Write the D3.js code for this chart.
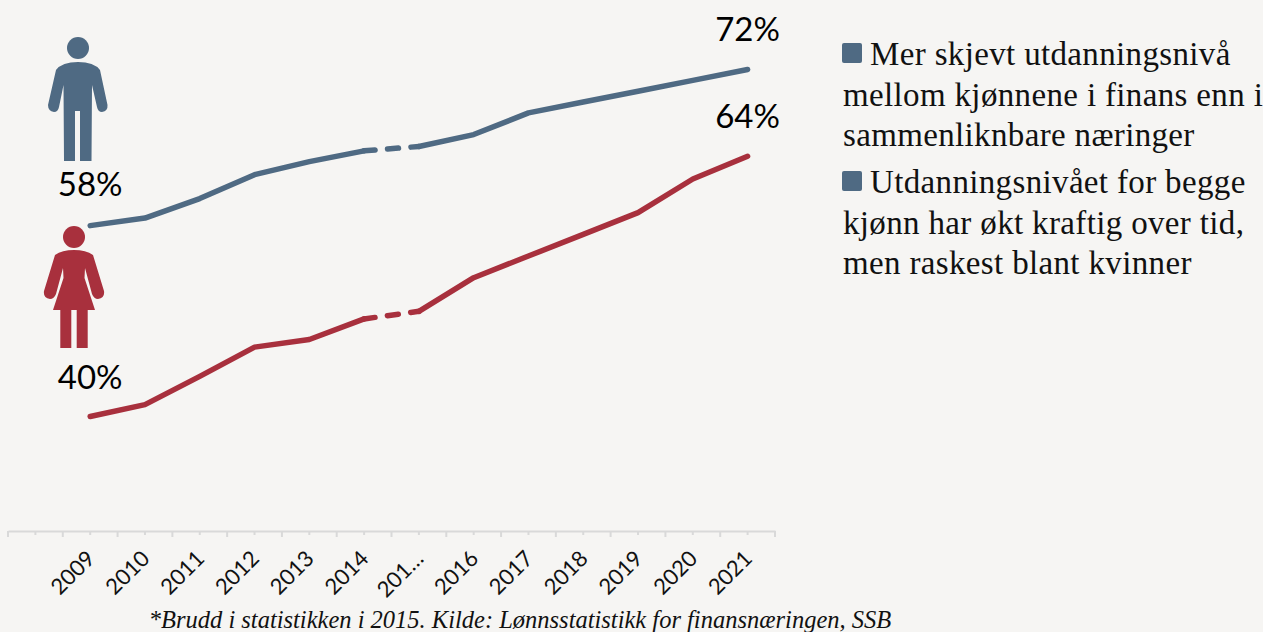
<!DOCTYPE html>
<html lang="no">
<head>
    <meta charset="UTF-8" />
    <title>Utdanningsniva finans</title>
    <script src="https://d3js.org/d3.v7.min.js"></script>
    <style>
        html, body { margin: 0; padding: 0; background: #f6f5f3; overflow: hidden; }
        .pct { font-family: Lato, sans-serif; font-size: 33px; fill: #000; text-anchor: middle; }
        .legend { font-family: "Liberation Serif", serif; font-size: 33px; letter-spacing: 0.35px; fill: #111; }
        .source { font-family: "Liberation Serif", serif; font-style: italic; font-size: 24.5px; fill: #111; text-anchor: middle; }
        .axis path, .axis line { stroke: #d9d9d9; stroke-width: 2; fill: none; }
        .axis text { font-family: Lato, sans-serif; font-size: 22px; fill: #111; }
        .series { fill: none; stroke-width: 5.5; stroke-linecap: round; stroke-linejoin: round; }
    </style>
</head>
<body>
    <div id="chart"></div>
    <script>
        var blue = "#4f6a83";
        var red = "#a8303d";

        // first slot on the axis is empty in the original
        var years = ["", "2009", "2010", "2011", "2012", "2013", "2014", "2015", "2016", "2017", "2018", "2019", "2020", "2021"];
        var tickLabels = ["", "2009", "2010", "2011", "2012", "2013", "2014", "201…", "2016", "2017", "2018", "2019", "2020", "2021"];
        var dataYears = years.slice(1);
        var men = [57.6, 58.3, 60.1, 62.3, 63.5, 64.5, 64.9, 66.0, 68.0, 69.0, 70.0, 71.0, 72.0];
        var women = [40.0, 41.1, 43.7, 46.4, 47.1, 49.0, 49.7, 52.8, 54.8, 56.8, 58.8, 61.9, 64.0];
        var labels = [
            { text: "58%", i: 0, s: men, dx: 0, dy: -29.5 },
            { text: "72%", i: 12, s: men, dx: 0, dy: -28.5 },
            { text: "40%", i: 0, s: women, dx: 0, dy: -27.5 },
            { text: "64%", i: 12, s: women, dx: 0, dy: -28 }
        ];
        var legendLines = [
            { text: "Mer skjevt utdanningsnivå", bullet: true, y: 65 },
            { text: "mellom kjønnene i finans enn i", y: 106 },
            { text: "sammenliknbare næringer", y: 146 },
            { text: "Utdanningsnivået for begge", bullet: true, y: 193 },
            { text: "kjønn har økt kraftig over tid,", y: 234 },
            { text: "men raskest blant kvinner", y: 274 }
        ];
        var source = "*Brudd i statistikken i 2015. Kilde: Lønnsstatistikk for finansnæringen, SSB";

        var svg = d3.select("#chart").append("svg")
            .attr("width", 1263)
            .attr("height", 632);

        var xScale = d3.scaleBand().domain(years).range([8, 775]);
        var yScale = d3.scaleLinear().domain([40, 72]).range([416.5, 69.5]);
        var xOf = function(y) { return xScale(y) + xScale.bandwidth() / 2; };

        // axis: short ticks at band centre, long ticks between the bands
        var axis = svg.append("g")
            .attr("class", "axis")
            .attr("transform", "translate(0,531)")
            .call(d3.axisBottom(xScale).tickSize(4).tickSizeOuter(0).tickFormat(function(d, i) { return tickLabels[i]; }));

        axis.selectAll(".major")
            .data(years.concat("end"))
            .enter().append("line")
            .attr("class", "major")
            .attr("x1", function(d) { return d === "end" ? xScale.range()[1] : xScale(d); })
            .attr("x2", function(d) { return d === "end" ? xScale.range()[1] : xScale(d); })
            .attr("y1", 0)
            .attr("y2", 6);

        axis.selectAll(".tick text")
            .attr("text-anchor", "end")
            .attr("dx", 0)
            .attr("dy", 0)
            .attr("x", 0)
            .attr("y", 0)
            .attr("transform", "translate(6,29) rotate(-45)");

        var line = d3.line()
            .x(function(d) { return xOf(d[0]); })
            .y(function(d) { return yScale(d[1]); });

        // 2014-2015 is the break in the statistics, so that piece is dashed
        function drawSeries(values, colour) {
            var pts = d3.zip(dataYears, values);
            svg.append("path").attr("class", "series").attr("stroke", colour).attr("d", line(pts.slice(0, 6)));
            svg.append("path").attr("class", "series").attr("stroke", colour).attr("stroke-dasharray", "11 12.5").attr("d", line(pts.slice(5, 7)));
            svg.append("path").attr("class", "series").attr("stroke", colour).attr("d", line(pts.slice(6)));
        }
        drawSeries(men, blue);
        drawSeries(women, red);

        svg.selectAll(".pct")
            .data(labels)
            .enter().append("text")
            .attr("class", "pct")
            .attr("x", function(d) { return xOf(dataYears[d.i]) + d.dx; })
            .attr("y", function(d) { return yScale(d.s[d.i]) + d.dy; })
            .text(function(d) { return d.text; });

        // man icon
        var man = svg.append("g").attr("fill", blue);
        man.append("circle").attr("cx", 78).attr("cy", 48).attr("r", 11);
        man.append("path").attr("d",
            "M56,70 Q62,62 78,62 Q94,62 100,70 L107.5,105 Q108,111 102,112 Q98,112 97,107 L92,85 L91.5,161 L80,161 L80,111 L75,111 L75,161 L64,161 L63.5,85 L59,107 Q58,112 54,112 Q48,111 48,105 Z");

        // woman icon
        var woman = svg.append("g").attr("fill", red);
        woman.append("circle").attr("cx", 74).attr("cy", 237).attr("r", 11);
        woman.append("path").attr("d",
            "M55,255 Q62,250 74,250 Q86,250 93,255 L104,291 Q105,298 98,299 Q94,299 92,294 L85,268 L84.5,278 L95,310 L87.7,310 L87.7,348 L76.7,348 L76.7,310 L71.3,310 L71.3,348 L60.3,348 L60.3,310 L53,310 L63.5,278 L63,268 L56,294 Q54,299 50,299 Q43,298 44,291 Z");

        // legend text
        var legend = svg.append("g");
        legend.selectAll("text")
            .data(legendLines)
            .enter().append("text")
            .attr("class", "legend")
            .attr("x", function(d) { return d.bullet ? 870 : 843; })
            .attr("y", function(d) { return d.y; })
            .text(function(d) { return d.text; });

        legend.selectAll("rect")
            .data(legendLines.filter(function(d) { return d.bullet; }))
            .enter().append("rect")
            .attr("x", 842)
            .attr("y", function(d) { return d.y - 22; })
            .attr("width", 20)
            .attr("height", 20)
            .attr("rx", 2)
            .attr("fill", blue);

        svg.append("text")
            .attr("class", "source")
            .attr("x", 520)
            .attr("y", 628)
            .text(source);
    </script>
</body>
</html>
